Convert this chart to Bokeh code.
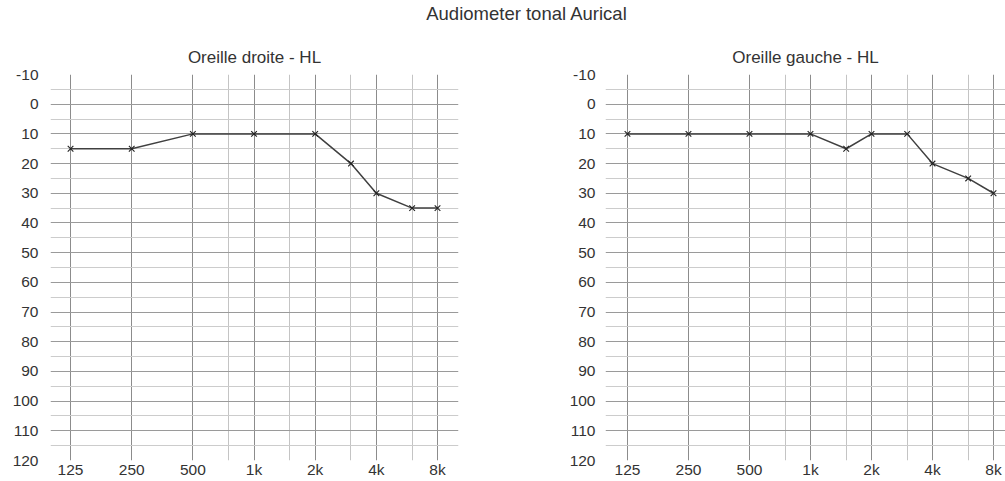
from bokeh.plotting import figure
from bokeh.models import Range1d, FixedTicker, Div
from bokeh.layouts import column, row
from bokeh.embed import file_html
from bokeh.resources import INLINE

# ---- data ----
main_title = "Audiometer tonal Aurical"
title_droite = "Oreille droite - HL"
title_gauche = "Oreille gauche - HL"

freq_droite = [125, 250, 500, 1000, 2000, 3000, 4000, 6000, 8000]
hl_droite = [15, 15, 10, 10, 10, 20, 30, 35, 35]

freq_gauche = [125, 250, 500, 1000, 1500, 2000, 3000, 4000, 6000, 8000]
hl_gauche = [10, 10, 10, 10, 15, 10, 10, 20, 25, 30]

x_ticks = [125, 250, 500, 1000, 2000, 4000, 8000]
x_tick_labels = ["125", "250", "500", "1k", "2k", "4k", "8k"]
x_minor = [750, 1500, 3000, 6000]
y_ticks = list(range(-10, 121, 10))
y_tick_labels = [str(v) for v in y_ticks]
y_minor = list(range(-5, 120, 10))

FONT = "Liberation Sans"
TXT = "#333333"


def make_panel(title, freqs, levels, width, bl, br, x0, x1, title_offset, label_standoff):
    p = figure(width=width, height=454, x_axis_type="log",
               x_range=Range1d(x0, x1), y_range=Range1d(120, -10),
               output_backend="svg", toolbar_location=None,
               min_border_left=bl, min_border_right=br,
               min_border_top=48, min_border_bottom=19,
               title=title)
    p.outline_line_color = None
    p.background_fill_color = "white"
    p.border_fill_color = "white"
    p.title.align = "center"
    p.title.text_font = FONT
    p.title.text_font_size = "17px"
    p.title.text_font_style = "normal"
    p.title.text_color = TXT
    p.title.offset = title_offset
    p.title.standoff = 16

    p.xaxis.ticker = FixedTicker(ticks=x_ticks, minor_ticks=x_minor)
    p.xaxis.major_label_overrides = {t: l for t, l in zip(x_ticks, x_tick_labels)}
    p.yaxis.ticker = FixedTicker(ticks=y_ticks, minor_ticks=y_minor)
    p.yaxis.major_label_overrides = {t: l for t, l in zip(y_ticks, y_tick_labels)}
    for ax in (p.xaxis[0], p.yaxis[0]):
        ax.axis_line_color = None
        ax.major_tick_line_color = None
        ax.minor_tick_line_color = None
        ax.major_tick_out = 0
        ax.minor_tick_out = 0
        ax.major_label_text_font = FONT
        ax.major_label_text_font_size = "15.5px"
        ax.major_label_text_color = TXT
    p.xaxis.major_label_standoff = 0
    p.yaxis.major_label_standoff = label_standoff

    p.xgrid.grid_line_color = "#8c8c8c"
    p.xgrid.grid_line_width = 1
    p.xgrid.minor_grid_line_color = "#c4c4c4"
    p.ygrid.grid_line_color = "#9a9a9a"
    p.ygrid.minor_grid_line_color = "#cccccc"

    p.line(freqs, levels, line_color="#404040", line_width=1.5)
    p.scatter(freqs, levels, marker="x", size=8, line_color="#222222", line_width=1.1)
    return p


p1 = make_panel(title_droite, freq_droite, hl_droite, 540, 50, 82, 99.6, 10147, 0, 12)
p2 = make_panel(title_gauche, freq_gauche, hl_gauche, 465, 65, 0, 97.4, 9168, 6, 10)

head = Div(text=f"<div style=\"width:1005px;font-family:'{FONT}';font-size:18.5px;color:{TXT};"
                f"text-align:center;padding-left:48px;box-sizing:border-box;line-height:28px;\">{main_title}</div>",
           width=1005, height=26, margin=(0, 0, 0, 0))

layout = column(head, row(p1, p2, spacing=0), spacing=0)

open("out.html", "w").write(file_html(layout, INLINE))
